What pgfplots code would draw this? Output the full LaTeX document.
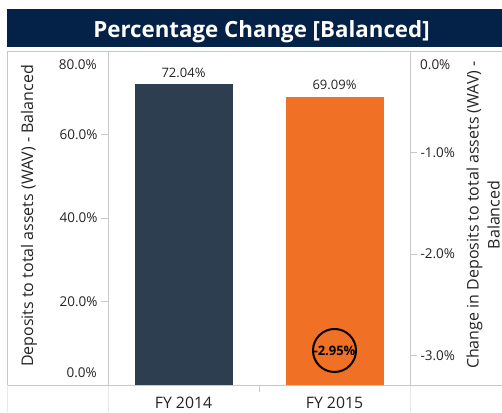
\documentclass[border=0pt]{standalone}
\usepackage{pgfplots}
\pgfplotsset{compat=1.18}
\usepackage{fontspec}
\setmainfont{Open Sans}

\definecolor{navy}{RGB}{4,33,71}
\definecolor{slate}{RGB}{45,62,80}
\definecolor{orangebar}{RGB}{240,112,38}
\definecolor{framegray}{RGB}{200,200,200}
\definecolor{lightline}{RGB}{232,232,232}
\definecolor{txt}{RGB}{37,36,35}

\begin{document}
\begin{tikzpicture}
\path[use as bounding box] (0,0) rectangle (502pt,412pt);
\clip (0,0) rectangle (502pt,412pt);

% title bar
\fill[navy] (7pt,365pt) rectangle (502pt,403pt);
\node[anchor=base, text=white, font=\fontsize{22.3}{26}\selectfont\bfseries] at (261.5pt,374.5pt) {Percentage Change [Balanced]};

% panel lines
\draw[framegray] (7pt,361pt) -- (502pt,361pt);
\draw[framegray] (7pt,27pt) -- (502pt,27pt);
\draw[framegray] (7pt,361pt) -- (7pt,27pt);
\draw[lightline] (7pt,27pt) -- (7pt,0pt);
\draw[lightline] (108pt,27pt) -- (108pt,0pt);
\draw[lightline] (410pt,27pt) -- (410pt,0pt);

\begin{axis}[
    at={(108pt,27pt)}, anchor=south west,
    scale only axis, width=302pt, height=334pt,
    xmin=-0.5, xmax=1.5, ymin=0, ymax=80,
    axis line style={framegray},
    xtick={0,1}, xticklabels={FY 2014,FY 2015},
    ytick={20,40,60}, yticklabels={20.0\%,40.0\%,60.0\%},
    ytick pos=left,
    tick align=outside,
    major tick length=7pt,
    x tick style={draw=none},
    y tick style={framegray, line width=0.8pt},
    /pgf/number format/assume math mode=true,
    yticklabel style={font=\fontsize{13.5}{16}\selectfont, text=txt},
    xticklabel style={font=\fontsize{15.8}{18}\selectfont, text=txt, yshift=-1.5pt},
    nodes near coords={\pgfmathprintnumber[fixed,fixed zerofill,precision=2]{\pgfplotspointmeta}\%},
    every node near coord/.append style={font=\fontsize{13}{15}\selectfont, text=txt, yshift=3pt},
    clip=false,
]
\addplot[ybar, bar width=98pt, bar shift=0pt, fill=slate, draw=none] coordinates {(0,72.04)};
\addplot[ybar, bar width=98pt, bar shift=0pt, fill=orangebar, draw=none] coordinates {(1,69.09)};
\draw[framegray, line width=0.8pt] (axis cs:0.5,0) -- ([yshift=-7pt]axis cs:0.5,0);
\end{axis}

\begin{axis}[
    at={(108pt,27pt)}, anchor=south west,
    scale only axis, width=302pt, height=334pt,
    xmin=-0.5, xmax=1.5, ymin=-3.29, ymax=0,
    axis x line=none, axis y line*=right,
    axis line style={framegray},
    ytick={-1,-2,-3}, yticklabels={-1.0\%,-2.0\%,-3.0\%},
    tick align=outside,
    major tick length=7pt,
    y tick style={framegray, line width=0.8pt},
    /pgf/number format/assume math mode=true,
    yticklabel style={font=\fontsize{13.5}{16}\selectfont, text=txt},
    clip=false,
]
\addplot[only marks, mark=o, mark size=21.5pt, mark options={line width=2pt, black},
    nodes near coords={-2.95\%}, nodes near coords align=center,
    every node near coord/.append style={font=\fontsize{13}{15}\selectfont\bfseries, text=black}]
    coordinates {(1,-2.95)};
\end{axis}

% end labels inside the axis range
\node[anchor=east, inner sep=0pt, text=txt, font=\fontsize{13.5}{16}\selectfont] at (97pt,347pt) {80.0\%};
\node[anchor=east, inner sep=0pt, text=txt, font=\fontsize{13.5}{16}\selectfont] at (97pt,39pt) {0.0\%};
\node[anchor=west, inner sep=0pt, text=txt, font=\fontsize{13.5}{16}\selectfont] at (420pt,347pt) {0.0\%};

% axis titles
\node[rotate=90, text=txt, font=\fontsize{16}{19}\selectfont] at (29pt,196pt) {Deposits to total assets (WAV) - Balanced};
\node[rotate=90, align=center, text=txt, font=\fontsize{16}{21}\selectfont] at (483pt,197pt) {Change in Deposits to total assets (WAV) -\\Balanced};
\end{tikzpicture}
\end{document}
